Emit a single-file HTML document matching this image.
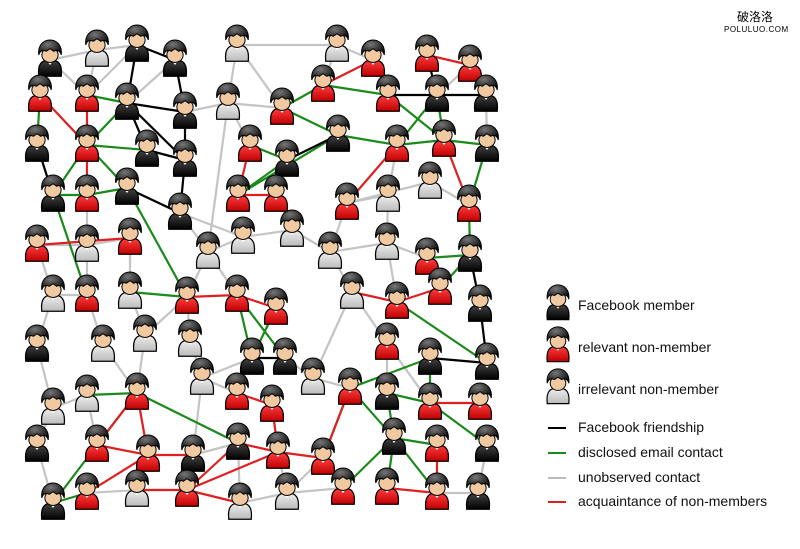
<!DOCTYPE html>
<html><head><meta charset="utf-8">
<style>
html,body{margin:0;padding:0;background:#fff;}
#wrap{position:relative;width:800px;height:549px;overflow:hidden;}
.lg{position:absolute;left:578px;font-family:"Liberation Sans",sans-serif;font-size:14px;color:#111;}
.wm{position:absolute;font-family:"Liberation Sans","Noto Sans CJK SC",sans-serif;color:#000;}
</style></head><body>
<div id="wrap">
<svg id="s" width="800" height="549" xmlns="http://www.w3.org/2000/svg">
<defs>
<radialGradient id="hair" cx="0.4" cy="0.3" r="0.7"><stop offset="0" stop-color="#777"/><stop offset="1" stop-color="#0a0a0a"/></radialGradient>
<linearGradient id="bb" x1="0" y1="0" x2="0" y2="1"><stop offset="0" stop-color="#444"/><stop offset="1" stop-color="#000"/></linearGradient>
<linearGradient id="br" x1="0" y1="0" x2="0" y2="1"><stop offset="0" stop-color="#ff4040"/><stop offset="1" stop-color="#c00000"/></linearGradient>
<linearGradient id="bg" x1="0" y1="0" x2="0" y2="1"><stop offset="0" stop-color="#eee"/><stop offset="1" stop-color="#bbb"/></linearGradient>
<g id="head"><ellipse cx="0" cy="-4" rx="6.5" ry="6" fill="#f0c9a0" stroke="#000" stroke-width="0.8"/><path d="M-9,-4 C-11,-20 11,-20 9,-4 C8,-8 5,-8 3,-7 L0,-9 L-3,-7 C-5,-8 -8,-8 -9,-4Z" fill="url(#hair)" stroke="#000" stroke-width="0.8"/></g>
<g id="pb"><path d="M-9,13 C-10,3 -7,0 0,0 C7,0 10,3 9,13 Z" fill="url(#bb)" stroke="#000" stroke-width="1"/><path d="M-3,0 L0,4 L3,0Z" fill="#fff"/><use href="#head"/></g>
<g id="pr"><path d="M-9,13 C-10,3 -7,0 0,0 C7,0 10,3 9,13 Z" fill="url(#br)" stroke="#000" stroke-width="1"/><path d="M-3,0 L0,4 L3,0Z" fill="#fff"/><use href="#head"/></g>
<g id="pg"><path d="M-9,13 C-10,3 -7,0 0,0 C7,0 10,3 9,13 Z" fill="url(#bg)" stroke="#000" stroke-width="1"/><path d="M-3,0 L0,4 L3,0Z" fill="#fff"/><use href="#head"/></g>
</defs>
<g id="edges"></g><g id="nodes"></g>
<line x1="548" y1="428" x2="566" y2="428" stroke="#000" stroke-width="2"/>
<line x1="548" y1="453" x2="566" y2="453" stroke="#1a8a1a" stroke-width="2"/>
<line x1="548" y1="478" x2="566" y2="478" stroke="#bbb" stroke-width="2"/>
<line x1="548" y1="502" x2="566" y2="502" stroke="#e02020" stroke-width="2"/>
<use href="#pb" transform="translate(558,304) scale(1.2)"/><use href="#pr" transform="translate(558,346) scale(1.2)"/><use href="#pg" transform="translate(558,388) scale(1.2)"/>
</svg>
<div class="lg" style="top:297px">Facebook member</div>
<div class="lg" style="top:339px">relevant non-member</div>
<div class="lg" style="top:381px">irrelevant non-member</div>
<div class="lg" style="top:419px">Facebook friendship</div>
<div class="lg" style="top:444px">disclosed email contact</div>
<div class="lg" style="top:469px">unobserved contact</div>
<div class="lg" style="top:493px">acquaintance of non-members</div>
<div class="wm" style="left:737px;top:8px;font-size:12px">破洛洛</div>
<div class="wm" style="left:724px;top:25px;font-size:8px;letter-spacing:0.5px">POLULUO.COM</div>
</div>
<script>
var N=[null,
[50,60,'b'],[97,50,'g'],[137,45,'b'],[175,60,'b'],[237,45,'g'],[337,45,'g'],[373,60,'r'],[427,55,'r'],[470,65,'r'],
[40,95,'r'],[87,95,'r'],[127,103,'b'],[185,112,'b'],[228,103,'g'],[282,108,'r'],[323,85,'r'],[388,95,'r'],[437,95,'b'],[486,95,'b'],
[37,145,'b'],[87,145,'r'],[147,150,'b'],[185,160,'b'],[250,145,'r'],[287,160,'b'],[338,135,'b'],[397,145,'r'],[444,140,'r'],[487,145,'b'],
[53,195,'b'],[87,195,'r'],[127,188,'b'],[180,213,'b'],[238,195,'r'],[276,195,'r'],[347,203,'r'],[388,195,'g'],[430,182,'g'],[469,205,'r'],
[37,245,'r'],[87,245,'g'],[130,238,'r'],[208,252,'g'],[243,237,'g'],[292,230,'g'],[330,252,'g'],[387,243,'g'],[427,258,'r'],[470,255,'b'],
[53,295,'g'],[87,295,'r'],[130,292,'g'],[187,297,'r'],[237,295,'r'],[276,308,'r'],[352,292,'g'],[397,302,'r'],[440,288,'r'],[480,305,'b'],
[37,345,'b'],[103,345,'g'],[145,335,'g'],[190,340,'g'],[252,358,'b'],[285,358,'b'],[313,378,'g'],[387,343,'r'],[430,358,'b'],[487,363,'b'],
[53,408,'g'],[87,395,'g'],[137,393,'r'],[202,378,'g'],[237,393,'r'],[272,405,'r'],[350,388,'r'],[387,393,'b'],[430,403,'r'],[480,403,'r'],
[37,445,'b'],[97,445,'r'],[148,455,'r'],[193,455,'b'],[238,443,'b'],[278,452,'r'],[323,458,'r'],[394,438,'b'],[437,445,'r'],[487,445,'b'],
[53,503,'b'],[87,493,'r'],[137,490,'g'],[187,490,'r'],[240,503,'g'],[287,493,'g'],[343,488,'r'],[387,488,'r'],[437,493,'r'],[478,493,'b']];
var E={
k:[[3,4],[3,12],[4,13],[12,13],[12,22],[12,23],[13,23],[22,23],[20,30],[32,33],[23,33],[18,19],[25,26],[64,65],[68,69],[59,69],[49,59],[8,18],[9,19],[18,17]],
gr:[[10,20],[11,12],[12,21],[21,22],[21,30],[21,32],[30,31],[31,32],[30,51],[32,53],[15,16],[15,26],[26,27],[27,28],[17,28],[18,28],[18,27],[28,29],[29,39],[24,25],[25,34],[39,49],[49,48],[49,58],[57,69],[54,64],[54,65],[64,55],[72,84],[72,81],[81,90],[90,91],[76,87],[87,88],[87,97],[87,98],[87,77],[78,89],[76,68],[86,76],[96,87],[78,68],[77,78],[16,17],[34,26],[71,72],[52,53]],
gy:[[1,2],[2,3],[1,11],[2,11],[3,11],[4,12],[13,14],[5,14],[5,15],[14,15],[6,16],[6,7],[5,6],[14,24],[14,43],[33,43],[33,44],[43,44],[44,45],[43,53],[45,46],[46,56],[46,47],[47,37],[37,36],[36,38],[38,39],[37,27],[46,36],[56,57],[56,66],[66,65],[66,76],[53,63],[53,62],[63,73],[73,74],[73,64],[74,64],[62,72],[61,72],[61,51],[50,60],[60,70],[70,71],[71,81],[80,90],[80,70],[41,31],[41,42],[41,51],[40,50],[50,51],[52,62],[42,52],[43,54],[45,35],[75,85],[84,94],[94,95],[95,85],[95,96],[92,93],[91,92],[82,92],[86,95],[89,99],[98,99],[29,19],[9,18],[7,17],[58,48],[57,47],[67,56],[67,77],[78,67],[47,48],[83,84],[73,83],[40,41],[99,89]],
rd:[[10,21],[11,21],[7,16],[8,9],[27,36],[34,35],[53,54],[54,55],[72,81],[81,82],[85,86],[86,96],[93,94],[93,85],[28,39],[79,78],[88,98],[21,31],[24,34],[74,75],[75,85],[84,85],[76,86],[57,58],[56,57],[92,93],[82,72],[40,42],[97,98],[91,82],[93,84],[83,82]]};
var col={k:'#000',gr:'#1a8a1a',gy:'#c4c4c4',rd:'#e02020'};
var ns='http://www.w3.org/2000/svg',eg=document.getElementById('edges'),ng=document.getElementById('nodes');
['gy','gr','rd','k'].forEach(function(t){E[t].forEach(function(e){var a=N[e[0]],b=N[e[1]];var l=document.createElementNS(ns,'line');l.setAttribute('x1',a[0]);l.setAttribute('y1',a[1]);l.setAttribute('x2',b[0]);l.setAttribute('y2',b[1]);l.setAttribute('stroke',col[t]);l.setAttribute('stroke-width',2.2);eg.appendChild(l);});});
for(var i=1;i<N.length;i++){var u=document.createElementNS(ns,'use');u.setAttribute('href','#p'+N[i][2]);u.setAttribute('transform','translate('+N[i][0]+','+N[i][1]+') scale(1.25)');ng.appendChild(u);}
</script>
</body></html>
